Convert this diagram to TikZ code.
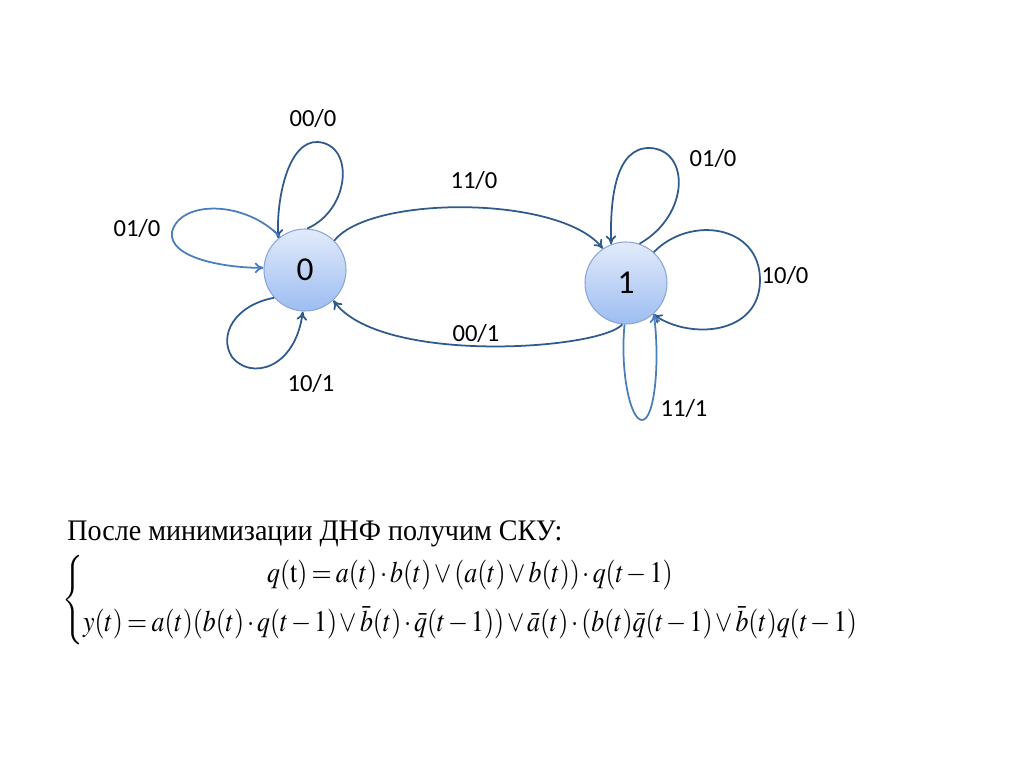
\documentclass[tikz,border=0pt]{standalone}
\usepackage{graphicx}
\usepackage{mathptmx}
\usepackage{fontspec}
\setmainfont{Liberation Serif}
\newfontfamily\calibri{Carlito}
\usetikzlibrary{arrows.meta}

\definecolor{edgedark}{HTML}{2F5A8C}
\definecolor{edgelight}{HTML}{4A7EBB}
\definecolor{statetop}{HTML}{E2EBFA}
\definecolor{statebot}{HTML}{9DBDF2}
\definecolor{stateline}{HTML}{8AA6D6}

\tikzset{
  state/.style={circle, minimum size=82*0.02cm, inner sep=0pt,
    draw=stateline, line width=0.6pt, top color=statetop, bottom color=statebot,
    font=\calibri\fontsize{19}{21}\selectfont},
  trans/.style={draw=edgedark, line width=1pt, -{To[length=5pt,width=6pt]}},
  translight/.style={trans, draw=edgelight},
  lbl/.style={font=\calibri\fontsize{14}{16}\selectfont}
}

\begin{document}
\begin{tikzpicture}[x=0.02cm,y=-0.02cm]
    \useasboundingbox (0,0) rectangle (1024,767);

    % Состояния
    \node[state] (q0) at (305,270) {0};
    \node[state] (q1) at (626,283) {1};

    % Петли состояния 0
    \draw[trans] (q0.87) .. controls (350,210) and (355,145) .. (318,142)
        .. controls (288,140) and (276,200) .. (q0.130);
    \draw[translight] (q0.127) .. controls (245,200) and (180,200) .. (172,232)
        .. controls (168,258) and (225,268) .. (q0.177);
    \draw[trans] (q0.222) .. controls (235,305) and (218,335) .. (232,357)
        .. controls (250,380) and (295,370) .. (q0.267);

    % Переходы между состояниями
    \draw[trans] (q0.45) .. controls (370,195) and (560,195) .. (q1.124);
    \draw[trans] (q1.265) .. controls (600,350) and (380,365) .. (q0.313);

    % Петли состояния 1
    \draw[trans] (q1.71) .. controls (690,215) and (690,150) .. (650,148)
        .. controls (615,147) and (610,200) .. (q1.111);
    \draw[trans] (q1.48) .. controls (690,215) and (760,225) .. (760,280)
        .. controls (760,335) and (690,340) .. (q1.-49);
    \draw[translight] (q1.268) .. controls (620,370) and (630,420) .. (642,420)
        .. controls (655,420) and (660,360) .. (q1.-48);

    % Подписи переходов
    \node[lbl] (l00a) at (313,118) {00/0};
    \node[lbl] (l01a) at (137,228) {01/0};
    \node[lbl] (l10a) at (311,383) {10/1};
    \node[lbl] (l11a) at (474,180) {11/0};
    \node[lbl] (l00b) at (476,333) {00/1};
    \node[lbl] (l01b) at (713,158) {01/0};
    \node[lbl] (l10b) at (785,275) {10/0};
    \node[lbl] (l11b) at (684,408) {11/1};

    % Система уравнений
    \node[anchor=base west, inner sep=0pt, font=\fontsize{17}{20}\selectfont]
        (title) at (67,540) {\scalebox{0.94}[1]{После минимизации ДНФ получим СКУ:}};
    \node[anchor=west, inner sep=0pt, font=\fontsize{17}{20}\selectfont] (sys) at (62,600)
        {\medmuskip=2mu \thickmuskip=3mu
         \scalebox{0.865}[1]{$\left\{\begin{array}{@{}c@{}}
          q(\mathrm{t})=a(t)\cdot b(t)\vee(a(t)\vee b(t))\cdot q(t-1)\\[8pt]
          y(t)=a(t)(b(t)\cdot q(t-1)\vee\bar{b}(t)\cdot\bar{q}(t-1))\vee\bar{a}(t)\cdot(b(t)\bar{q}(t-1)\vee\bar{b}(t)q(t-1)
        \end{array}\right.$}};
\end{tikzpicture}
\end{document}
